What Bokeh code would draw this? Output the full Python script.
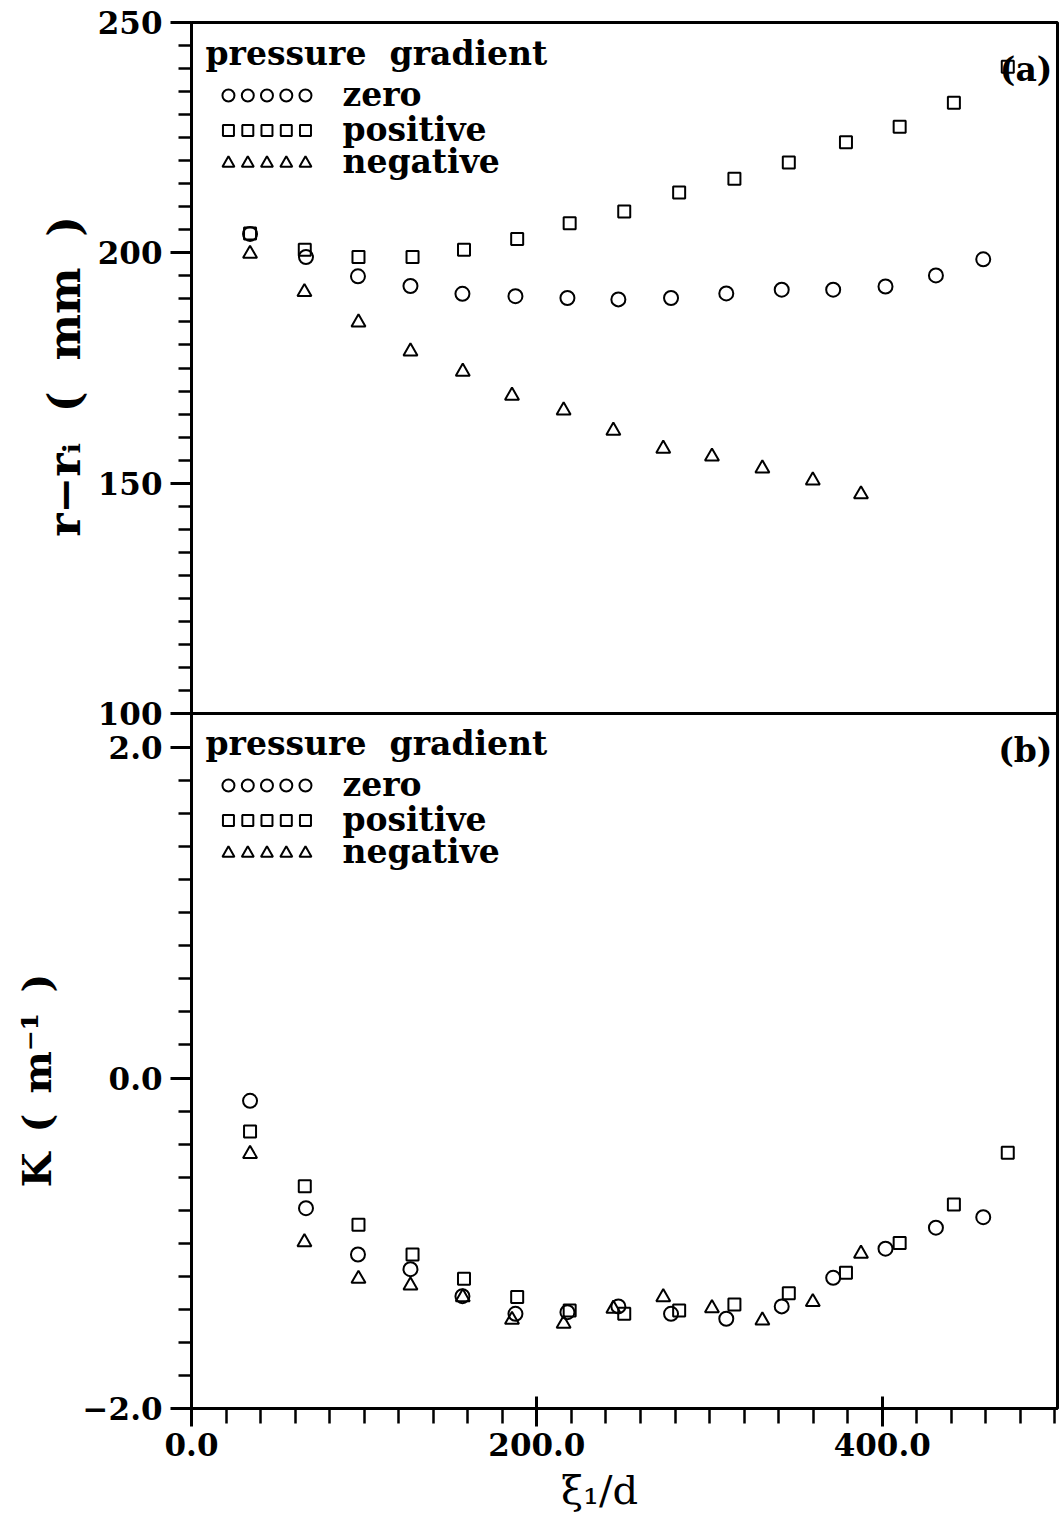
import math
from bokeh.plotting import figure
from bokeh.models import Range1d, LinearAxis, FixedTicker, Label, BoxAnnotation
from bokeh.embed import file_html
from bokeh.resources import INLINE

# ---------------- data ----------------
x_zero = [33.9, 66.3, 96.4, 126.8, 156.9, 187.6, 217.7, 247.2, 277.7, 309.7, 341.8, 371.6, 401.9, 431.1, 458.5]
x_pos = [33.9, 65.6, 96.7, 128.0, 157.8, 188.6, 219.0, 250.6, 282.4, 314.4, 345.9, 379.0, 410.1, 441.5, 472.7]
x_neg = [33.9, 65.4, 96.7, 126.8, 157.1, 185.6, 215.5, 244.3, 273.2, 301.4, 330.6, 359.8, 387.7]

# panel (a): r - r_i (mm)
r_zero = [204.1, 199.1, 194.9, 192.8, 191.1, 190.6, 190.2, 189.9, 190.2, 191.2, 192.0, 192.0, 192.7, 195.1, 198.6]
r_pos = [204.2, 200.7, 199.1, 199.1, 200.7, 203.0, 206.4, 209.0, 213.1, 216.1, 219.6, 224.0, 227.4, 232.6, 240.4]
r_neg = [199.8, 191.5, 184.9, 178.6, 174.2, 169.0, 165.8, 161.4, 157.5, 155.8, 153.2, 150.6, 147.6]

# panel (b): K (1/m)
k_zero = [-0.138, -0.788, -1.068, -1.157, -1.320, -1.427, -1.417, -1.382, -1.427, -1.457, -1.382, -1.209, -1.033, -0.906, -0.842]
k_pos = [-0.324, -0.655, -0.888, -1.068, -1.215, -1.326, -1.407, -1.427, -1.407, -1.370, -1.302, -1.178, -0.999, -0.765, -0.453]
k_neg = [-0.459, -0.993, -1.215, -1.255, -1.326, -1.463, -1.487, -1.396, -1.326, -1.393, -1.467, -1.356, -1.063]

x_ticks = [0, 200, 400]
x_tick_labels = ["0.0", "200.0", "400.0"]
r_ticks = [100, 150, 200, 250]
r_tick_labels = ["100", "150", "200", "250"]
k_ticks = [-2, 0, 2]
k_tick_labels = ["\u22122.0", "0.0", "2.0"]

legend_title = "pressure\u2002\u2009gradient"
series_names = ["zero", "positive", "negative"]
series_markers = ["circle", "square", "triangle"]

FONT = "DejaVu Serif"

# panel extents (data units)
X_MAX = 501.5          # right edge of both panels
R_MIN, R_MAX = 100, 250
K_MIN, K_MAX = -2.0, 2.2057

# ---------------- figure ----------------
# the frame covers the whole canvas; the panel boxes are drawn as annotations
p = figure(width=1062, height=1519, output_backend="svg", toolbar_location=None,
           x_range=Range1d(-110.61, 504.40), y_range=Range1d(-2.6717, 6.5204),
           x_axis_location=None, y_axis_location=None,
           min_border_left=0, min_border_right=0, min_border_top=0, min_border_bottom=0)
p.extra_y_ranges = {"top": Range1d(-74.96, 254.78)}
p.grid.visible = False
p.background_fill_color = "white"
p.border_fill_color = "white"
p.outline_line_color = None


def style_axis(ax, major_out, major_in, minor_out):
    ax.axis_line_width = 3
    ax.axis_line_color = "black"
    ax.major_tick_line_width = 3
    ax.minor_tick_line_width = 2.5
    ax.major_tick_out = major_out
    ax.major_tick_in = major_in
    ax.minor_tick_out = minor_out
    ax.minor_tick_in = 0
    ax.major_label_text_font = FONT
    ax.major_label_text_font_style = "bold"
    ax.major_label_text_font_size = "31px"
    ax.major_label_text_color = "black"


ax_r = LinearAxis(y_range_name="top", fixed_location=0, bounds=(R_MIN, R_MAX),
                  ticker=FixedTicker(ticks=r_ticks, minor_ticks=list(range(100, 251, 5))))
ax_r.major_label_overrides = dict(zip(r_ticks, r_tick_labels))
style_axis(ax_r, 21, 0, 13)
ax_r.major_label_standoff = 8
p.add_layout(ax_r, "left")

ax_k = LinearAxis(fixed_location=0, bounds=(K_MIN, K_MAX),
                  ticker=FixedTicker(ticks=k_ticks, minor_ticks=[round(-2 + 0.2 * i, 1) for i in range(21)]))
ax_k.major_label_overrides = dict(zip(k_ticks, k_tick_labels))
style_axis(ax_k, 21, 0, 13)
ax_k.major_label_standoff = 8
p.add_layout(ax_k, "left")

ax_x = LinearAxis(fixed_location=K_MIN, bounds=(0, X_MAX),
                  ticker=FixedTicker(ticks=x_ticks, minor_ticks=list(range(0, 501, 20))))
ax_x.major_label_overrides = dict(zip(x_ticks, x_tick_labels))
style_axis(ax_x, 18, 12, 15)
ax_x.major_label_standoff = 6
p.add_layout(ax_x, "below")

# panel boxes
box = dict(fill_color=None, fill_alpha=0, line_color="black", line_alpha=1, line_width=3)
p.add_layout(BoxAnnotation(left=0, right=X_MAX, bottom=R_MIN, top=R_MAX, y_range_name="top", **box))
p.add_layout(BoxAnnotation(left=0, right=X_MAX, bottom=K_MIN, top=K_MAX, **box))

# ---------------- data markers ----------------
mk = dict(fill_color=None, line_color="black", line_width=2)
p.scatter(x_zero, r_zero, y_range_name="top", marker="circle", size=14, **mk)
p.scatter(x_pos, r_pos, y_range_name="top", marker="square", size=12, **mk)
p.scatter(x_neg, r_neg, y_range_name="top", marker="triangle", size=14, **mk)

p.scatter(x_zero, k_zero, marker="circle", size=14, **mk)
p.scatter(x_pos, k_pos, marker="square", size=12, **mk)
p.scatter(x_neg, k_neg, marker="triangle", size=14, **mk)

# ---------------- legends ----------------
leg_mx = [21.4, 32.6, 43.7, 54.9, 66.0]
leg_sizes = [12, 11, 12]
txt = dict(text_font=FONT, text_font_style="bold", text_color="black")

# panel (a)
a_marker_y = [234.15, 226.56, 219.46]
a_label_y = [234.31, 226.71, 219.83]
p.add_layout(Label(x=8.1, y=243.27, y_range_name="top", text=legend_title,
                   text_font_size="33px", text_align="left", text_baseline="alphabetic", **txt))
for name, m, s, my, ly in zip(series_names, series_markers, leg_sizes, a_marker_y, a_label_y):
    p.scatter(leg_mx, [my] * 5, y_range_name="top", marker=m, size=s, **mk)
    p.add_layout(Label(x=87.4, y=ly, y_range_name="top", text=name,
                       text_font_size="33px", text_align="left", text_baseline="alphabetic", **txt))
p.add_layout(Label(x=498.6, y=239.80, y_range_name="top", text="(a)",
                   text_font_size="33px", text_align="right", text_baseline="alphabetic", **txt))

# panel (b)
b_marker_y = [1.770, 1.558, 1.360]
b_label_y = [1.7743, 1.5625, 1.3707]
p.add_layout(Label(x=8.1, y=2.0242, text=legend_title,
                   text_font_size="33px", text_align="left", text_baseline="alphabetic", **txt))
for name, m, s, my, ly in zip(series_names, series_markers, leg_sizes, b_marker_y, b_label_y):
    p.scatter(leg_mx, [my] * 5, marker=m, size=s, **mk)
    p.add_layout(Label(x=87.4, y=ly, text=name,
                       text_font_size="33px", text_align="left", text_baseline="alphabetic", **txt))
p.add_layout(Label(x=498.6, y=1.9818, text="(b)",
                   text_font_size="33px", text_align="right", text_baseline="alphabetic", **txt))

# ---------------- axis titles ----------------
p.add_layout(Label(x=-73.5, y=173.2, y_range_name="top",
                   text="r\u2212r\u1d62\u2002\u2009(\u2002\u2009mm\u2002\u2009)",
                   angle=math.pi / 2, text_font_size="44px", text_align="center",
                   text_baseline="alphabetic", **txt))
p.add_layout(Label(x=-89.8, y=-0.015, text="K\u2002(\u2002m\u207b\u00b9\u2002)",
                   angle=math.pi / 2, text_font_size="40px", text_align="center",
                   text_baseline="alphabetic", **txt))
p.add_layout(Label(x=236.3, y=-2.4902, text="\u03be\u2081/d",
                   text_font=FONT, text_font_style="normal", text_color="black",
                   text_font_size="40px", text_align="center", text_baseline="alphabetic"))

open("out.html", "w").write(file_html(p, INLINE))
